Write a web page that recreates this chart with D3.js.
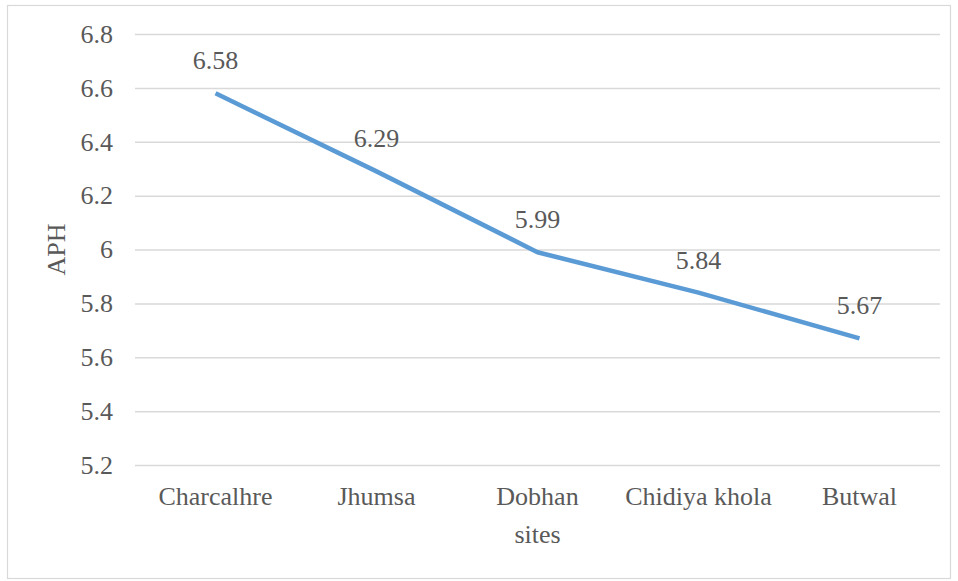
<!DOCTYPE html>
<html>
<head>
<meta charset="utf-8">
<script src="https://cdn.jsdelivr.net/npm/d3@7"></script>
<style>
  html, body { margin: 0; padding: 0; background: #fff; }
  svg { display: block; }
</style>
</head>
<body>
<svg id="chart" width="958" height="581"></svg>
<script>
// APH by site
const sites = ["Charcalhre", "Jhumsa", "Dobhan sites", "Chidiya khola", "Butwal"];
const aph = [6.58, 6.29, 5.99, 5.84, 5.67];
const yTicks = [5.2, 5.4, 5.6, 5.8, 6, 6.2, 6.4, 6.6, 6.8];

const FONT = "Liberation Serif, Times New Roman, Times, serif";
const TXT = "#595959";
const FS = 26;

const svg = d3.select("#chart").attr("font-family", FONT);
const W = 958, H = 581;
const m = { left: 135, right: 18, top: 34, bottom: 116 };

// chart frame
svg.append("rect")
  .attr("x", 7.5).attr("y", 5.5)
  .attr("width", 943).attr("height", 573)
  .attr("fill", "#fff").attr("stroke", "#d9d9d9").attr("stroke-width", 1.2);

const x = d3.scaleBand().domain(sites).range([m.left, W - m.right]);
const y = d3.scaleLinear().domain([5.2, 6.8]).range([H - m.bottom, m.top]);

// horizontal gridlines + y tick labels
const yAxis = d3.axisLeft(y).tickValues(yTicks).tickSize(-(W - m.left - m.right)).tickPadding(22)
  .tickFormat(d => String(+d.toFixed(1)));
const gy = svg.append("g").attr("transform", `translate(${m.left},0)`).call(yAxis)
  .attr("font-family", FONT).attr("font-size", FS);
gy.select(".domain").remove();
gy.selectAll(".tick line").attr("stroke", "#d9d9d9").attr("stroke-width", 1.5);
gy.selectAll(".tick text").attr("fill", TXT).attr("dy", "0.32em");

// x category labels (wrap long names)
const xAxis = d3.axisBottom(x).tickSize(0).tickPadding(0);
const gx = svg.append("g").attr("transform", `translate(0,${H - m.bottom})`).call(xAxis)
  .attr("font-family", FONT).attr("font-size", FS);
gx.select(".domain").remove();
gx.selectAll(".tick text").each(function(d) {
  const t = d3.select(this).text(null).attr("fill", TXT).attr("y", 40).attr("dy", 0);
  const lines = d === "Dobhan sites" ? ["Dobhan", "sites"] : [d];
  lines.forEach((s, i) => t.append("tspan").attr("x", 0).attr("dy", i === 0 ? 0 : 38).text(s));
});

// y axis title
svg.append("text")
  .attr("transform", `translate(65,${(m.top + H - m.bottom) / 2}) rotate(-90)`)
  .attr("text-anchor", "middle").attr("font-size", FS).attr("fill", TXT).text("APH");

// line
const cx = d => x(d) + x.bandwidth() / 2;
const line = d3.line().x((d, i) => cx(sites[i])).y(d => y(d));
svg.append("path").datum(aph)
  .attr("d", line).attr("fill", "none")
  .attr("stroke", "#5b9bd5").attr("stroke-width", 4.5)
  .attr("stroke-linejoin", "round");

// value labels
svg.append("g").selectAll("text").data(aph).join("text")
  .attr("x", (d, i) => cx(sites[i]))
  .attr("y", d => y(d) - 24)
  .attr("text-anchor", "middle").attr("font-size", FS).attr("fill", TXT)
  .text(d => d.toFixed(2));
</script>
</body>
</html>
